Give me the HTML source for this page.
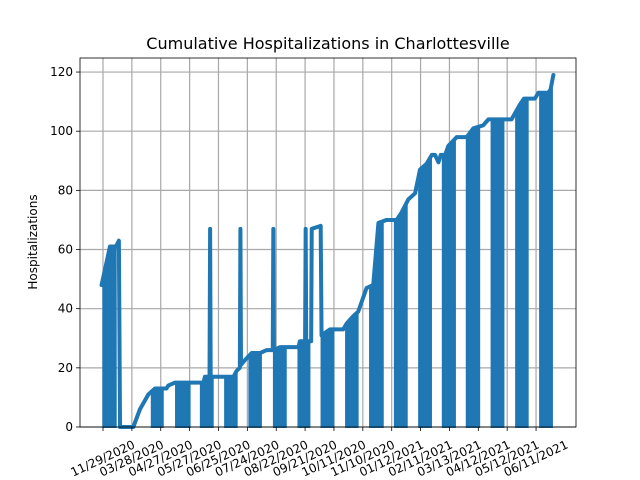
<!DOCTYPE html>
<html><head><meta charset="utf-8"><style>
body{margin:0;background:#fff}
svg{display:block;font-family:"DejaVu Sans","Liberation Sans",sans-serif}
</style></head><body>
<svg id="chart" width="640" height="480">
<rect width="640" height="480" fill="#fff"/>
<text x="328" y="49" font-size="16" text-anchor="middle">Cumulative Hospitalizations in Charlottesville</text>
<text transform="translate(37,242) rotate(-90)" font-size="12" text-anchor="middle">Hospitalizations</text>
<g id="grid"></g><g id="bands"></g><g id="series"></g><g id="axes"></g>
</svg>
<script>
const xTickLabels=["11/29/2020","03/28/2020","04/27/2020","05/27/2020","06/25/2020","07/24/2020","08/22/2020","09/21/2020","10/11/2020","11/10/2020","01/12/2021","02/11/2021","03/13/2021","04/12/2021","05/12/2021","06/11/2021"];
const yTicks=[0,20,40,60,80,100,120];
const lineT=[-0.05,0.13,0.24,0.45,0.55,0.59,1.05,1.28,1.57,1.8,2.2,2.26,2.49,3.48,3.53,3.69,3.71,3.73,4.52,4.63,4.74,4.76,4.78,4.86,5.15,5.44,5.67,5.88,5.9,5.92,6.13,6.77,6.82,7.0,7.02,7.04,7.21,7.23,7.54,7.57,7.86,8.32,8.44,8.67,8.84,9.13,9.36,9.54,9.82,10.17,10.34,10.58,10.81,10.98,11.21,11.39,11.5,11.62,11.7,11.85,11.96,12.25,12.6,12.83,13.17,13.35,14.15,14.44,14.58,14.96,15.08,15.42,15.5,15.6];
const lineV=[48,56,61,61,63,0,0,6,11,13,13,14,15,15,17,17,67,17,17,19,20,67,21,22,25,25,26,26,67,26,27,27,29,29,67,29,29,67,68,31,33,33,35,37.5,39,47,48,69,70,70,72.5,77,79,87,89,92,92,89.5,92,92,95,98,98,101,102,104,104,109,111,111,113,113,114,119];
const bandStart=[0.01,1.69,2.53,3.39,4.23,5.07,5.92,6.77,7.57,8.42,9.25,10.11,10.95,11.77,12.6,13.46,14.31,15.14];
const bandEnd=[0.44,2.07,3.0,3.8,4.63,5.47,6.33,7.15,7.98,8.82,9.69,10.52,11.36,12.19,13.03,13.87,14.71,15.55];
const NS="http://www.w3.org/2000/svg";
const X0=80,X1=576,Y0=58,Y1=427;
const xs=t=>103+28.87*t;
const ys=v=>427-v*2.958;
const C="#1f77b4";
function mk(tag,attrs,parent){const e=document.createElementNS(NS,tag);for(const k in attrs)e.setAttribute(k,attrs[k]);parent.appendChild(e);return e;}
const grid=document.getElementById('grid'),axes=document.getElementById('axes'),bands=document.getElementById('bands'),series=document.getElementById('series');
function interp(t){
  for(let i=0;i<lineT.length-1;i++){if(t>=lineT[i]&&t<=lineT[i+1]){const f=(t-lineT[i])/(lineT[i+1]-lineT[i]||1);return lineV[i]+f*(lineV[i+1]-lineV[i]);}}
  return lineV[lineV.length-1];
}
xTickLabels.forEach((lab,i)=>{
  const x=xs(i);
  const g=mk('line',{x1:x,x2:x,y1:Y0,y2:Y1,stroke:'#a8a8a8','stroke-width':1.2},grid);
  
  
  const tk=mk('line',{x1:x,x2:x,y1:Y1,y2:Y1+4,stroke:'#000','stroke-width':0.8},axes);
  
  
  const tx=mk('text',{x:0,y:0,'font-size':12,'text-anchor':'middle','dominant-baseline':'middle',transform:`translate(${x},${Y1+32}) rotate(-25)`},axes);
  tx.textContent=lab;
  
  
});
yTicks.forEach(v=>{
  const y=ys(v);
  const g=mk('line',{x1:X0,x2:X1,y1:y,y2:y,stroke:'#a8a8a8','stroke-width':1.2},grid);
  
  
  const tk=mk('line',{x1:X0-4,x2:X0,y1:y,y2:y,stroke:'#000','stroke-width':0.8},axes);
  
  
  const tx=mk('text',{x:X0-7,y:y+4,'font-size':12,'text-anchor':'end'},axes);
  tx.textContent=v;
  
  
});
const frame=mk('rect',{x:X0,y:Y0,width:X1-X0,height:Y1-Y0,fill:'none',stroke:'#000','stroke-width':0.8},axes);


bandStart.forEach((s,i)=>{
  const e=bandEnd[i];let pts=[];
  const n=12;
  for(let k=0;k<=n;k++){const t=s+(e-s)*k/n;let v=interp(t);
    pts.push([xs(t),ys(Math.min(v,interp(Math.max(s,t-0.04)),interp(Math.min(e,t+0.04))))]);}
  let d=`M${xs(s)},${ys(0)} `+pts.map(p=>`L${p[0]},${p[1]}`).join(' ')+` L${xs(e)},${ys(0)} Z`;
  const b=mk('path',{d:d,fill:C,stroke:C,'stroke-width':2},bands);
  
  
});
const d=lineT.map((t,i)=>(i?'L':'M')+xs(t)+','+ys(lineV[i])).join(' ');
const ln=mk('path',{d:d,fill:'none',stroke:C,'stroke-width':4,'stroke-linejoin':'round','stroke-linecap':'round'},series);


</script>
</body></html>
